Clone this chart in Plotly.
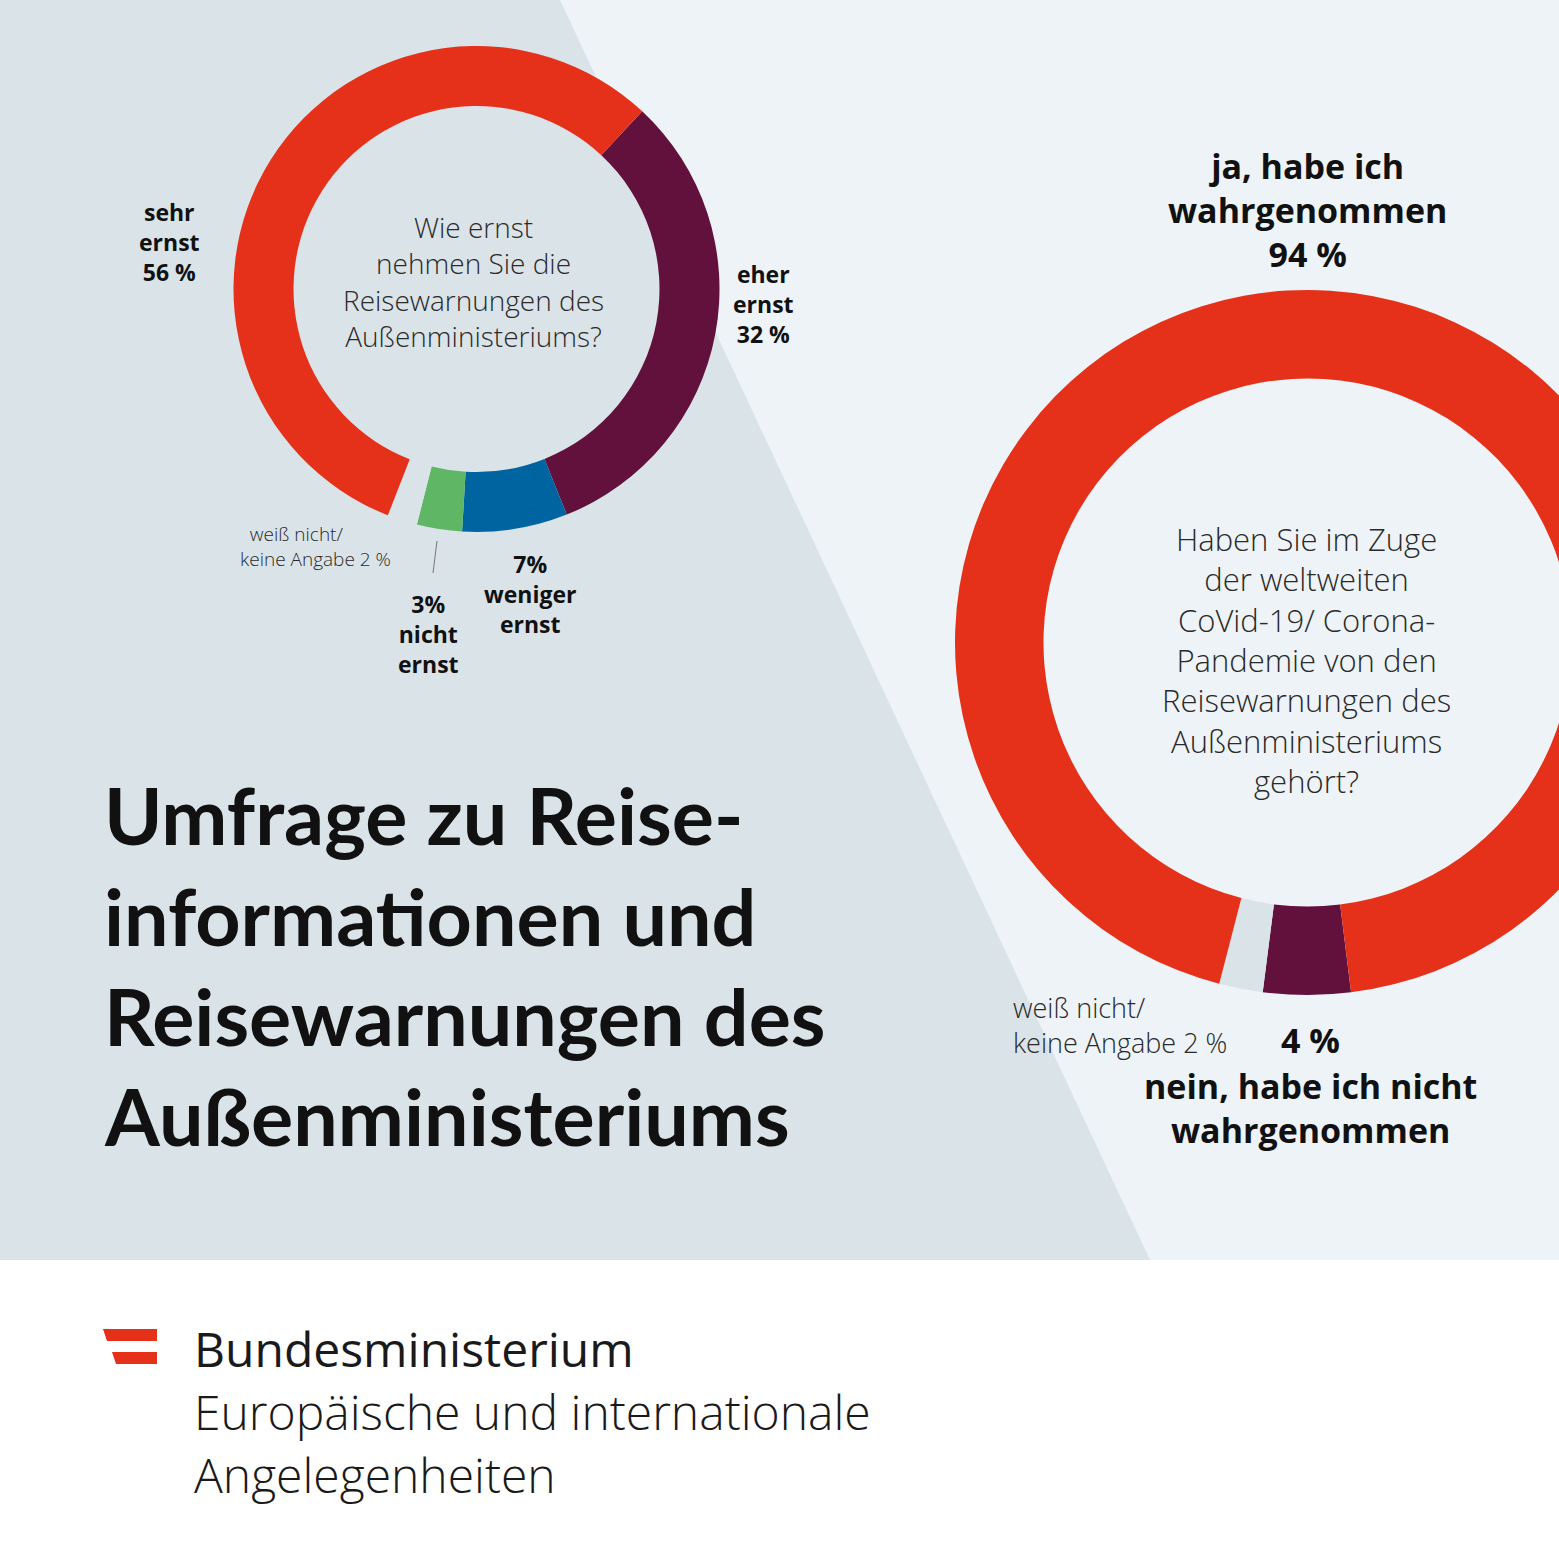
import plotly.graph_objects as go

# ---------------- data ----------------
q1_labels = ["eher ernst", "weniger ernst", "nicht ernst", "weiß nicht/keine Angabe", "sehr ernst"]
q1_values = [32, 7, 3, 2, 56]
q2_labels = ["nein, habe ich nicht wahrgenommen", "weiß nicht/keine Angabe", "ja, habe ich wahrgenommen"]
q2_values = [4, 2, 94]
q1_question = ["Wie ernst", "nehmen Sie die", "Reisewarnungen des", "Außenministeriums?"]
q2_question = ["Haben Sie im Zuge", "der weltweiten", "CoVid-19/ Corona-", "Pandemie von den",
               "Reisewarnungen des", "Außenministeriums", "gehört?"]
title_lines = ["Umfrage zu Reise-", "informationen und", "Reisewarnungen des", "Außenministeriums"]
footer_lines = ["Bundesministerium", "Europäische und internationale", "Angelegenheiten"]

# ---------------- styles ----------------
W, H = 1700, 1559
RED = "#e5311a"
PURPLE = "#62103c"
BLUE = "#0064a0"
GREEN = "#5fb766"
BG_LEFT = "#dae3e8"
BG_RIGHT = "#edf3f6"
FONT = "Open Sans"
TITLE_FONT = "Lato"
INK = "#111111"
SOFT = "#2a2a2a"


def px(x):
    return x / W


def py(y):
    return 1 - y / H


fig = go.Figure()

fig.add_trace(go.Pie(
    labels=q1_labels, values=q1_values, sort=False, direction="clockwise",
    rotation=43, hole=0.753,
    marker=dict(colors=[PURPLE, BLUE, GREEN, BG_LEFT, RED], line=dict(width=0)),
    textinfo="none", hoverinfo="label+value", showlegend=False,
    domain=dict(x=[px(233.5), px(719.5)], y=[py(532), py(46)]),
))

fig.add_trace(go.Pie(
    labels=q2_labels, values=q2_values, sort=False, direction="clockwise",
    rotation=172.9, hole=0.749,
    marker=dict(colors=[PURPLE, BG_LEFT, RED], line=dict(width=0)),
    textinfo="none", hoverinfo="label+value", showlegend=False,
    domain=dict(x=[px(955), px(1660)], y=[py(995), py(290)]),
))

shapes = [
    dict(type="rect", xref="paper", yref="paper", x0=0, x1=1, y0=py(1260), y1=1,
         fillcolor=BG_RIGHT, line=dict(width=0), layer="below"),
    dict(type="path", xref="paper", yref="paper",
         path=f"M 0 1 L {px(560)} 1 L {px(1150)} {py(1260)} L 0 {py(1260)} Z",
         fillcolor=BG_LEFT, line=dict(width=0), layer="below"),
    # leader line for "nicht ernst"
    dict(type="line", xref="paper", yref="paper", x0=px(437), y0=py(541), x1=px(433), y1=py(573),
         line=dict(color="#777777", width=1)),
    # logo bars
    dict(type="path", xref="paper", yref="paper",
         path=f"M {px(103)} {py(1329)} L {px(157)} {py(1329)} L {px(157)} {py(1341)} L {px(107)} {py(1341)} Z",
         fillcolor=RED, line=dict(width=0)),
    dict(type="path", xref="paper", yref="paper",
         path=f"M {px(112)} {py(1352)} L {px(157)} {py(1352)} L {px(157)} {py(1364)} L {px(116)} {py(1364)} Z",
         fillcolor=RED, line=dict(width=0)),
]


def ann(text, x, y, size, weight=400, color=INK, xanchor="center", yanchor="middle", align="center",
        family=FONT):
    return dict(text=text, x=px(x), y=py(y), xref="paper", yref="paper", showarrow=False,
                xanchor=xanchor, yanchor=yanchor, align=align,
                font=dict(family=family, size=size, color=color, weight=weight))


annotations = [
    ann("<br>".join(q1_question), 473, 281, 28, 300, SOFT),
    ann("<br>".join(q2_question), 1306, 660, 31, 300, SOFT),
    ann(f"sehr<br>ernst<br>{q1_values[4]} %", 169, 242, 23, 700),
    ann(f"eher<br>ernst<br>{q1_values[0]} %", 763, 304, 23, 700),
    ann(f"{q1_values[1]}%<br>weniger<br>ernst", 530, 594, 23, 700),
    ann(f"{q1_values[2]}%<br>nicht<br>ernst", 428, 634, 23, 700),
    ann(f"&nbsp;&nbsp;weiß nicht/<br>keine Angabe {q1_values[3]} %", 238, 546, 19, 300, SOFT,
        xanchor="left", align="left"),
    ann(f"ja, habe ich<br>wahrgenommen<br>{q2_values[2]} %", 1307, 210, 34, 700),
    ann(f"weiß nicht/<br>keine Angabe {q2_values[1]} %", 1011, 1025, 27, 300, SOFT,
        xanchor="left", align="left"),
    ann(f"{q2_values[0]} %", 1310, 1040, 34, 700),
    ann(f"{q2_labels[0][:20]}<br>{q2_labels[0][21:]}", 1310, 1108, 34, 700),
]

title_y = [814, 915, 1015, 1115]
for line, y in zip(title_lines, title_y):
    annotations.append(ann(line, 102, y, 79, 700, INK, xanchor="left", family=TITLE_FONT))

footer_y = [1348, 1411, 1474]
footer_w = [400, 300, 300]
for line, y, wt in zip(footer_lines, footer_y, footer_w):
    annotations.append(ann(line, 192, y, 48, wt, "#1a1a1a", xanchor="left"))

fig.update_layout(
    width=W, height=H, margin=dict(l=0, r=0, t=0, b=0),
    paper_bgcolor="white", plot_bgcolor="white",
    shapes=shapes, annotations=annotations,
    font=dict(family=FONT),
)

fig.write_html(
    "out.html",
    config={"displayModeBar": False},
    post_script="document.body.style.margin='0';document.body.style.overflow='hidden';document.documentElement.style.overflow='hidden';",
)
